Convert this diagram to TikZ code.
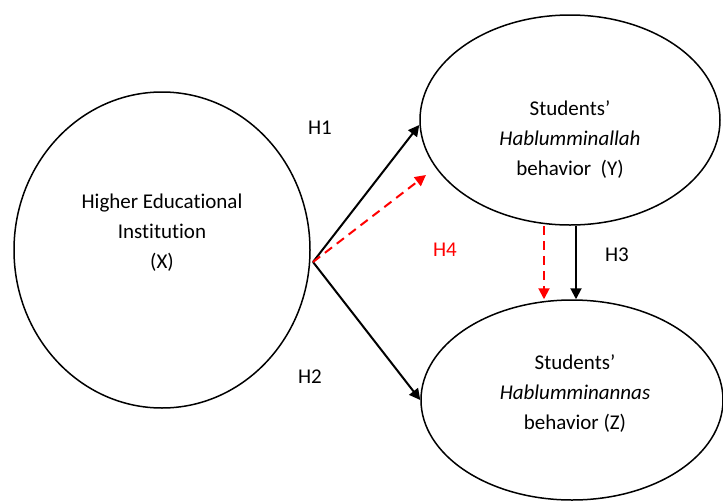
\documentclass[tikz,border=0pt]{standalone}
\usepackage{fontspec}
\setmainfont{Carlito}[Ligatures={TeX,NoCommon}]
\usetikzlibrary{arrows.meta,shapes.geometric}

\begin{document}
\begin{tikzpicture}[x=1pt,y=-1pt,>={Triangle[length=11pt,width=11pt]},line width=2pt]
    \tikzstyle{construct}=[ellipse,draw,line width=1.5pt,inner sep=0pt]
    \tikzstyle{annot}=[align=center,font=\fontsize{21}{30}\selectfont]
    \tikzstyle{hyp}=[font=\fontsize{21}{24}\selectfont]
    \tikzstyle{effect}=[->,draw=black]
    \tikzstyle{mediated}=[->,draw=red,dash pattern=on 9pt off 6pt]

    \useasboundingbox (0,0) rectangle (723,501);

    % Draw the three constructs
    \node[construct,minimum width=296pt,minimum height=316pt] (X) at (162,250) {};
    \node[construct,minimum width=300pt,minimum height=210pt] (Y) at (570,120) {};
    \node[construct,minimum width=302pt,minimum height=200pt] (Z) at (572,400) {};

    \node[annot] (X-text) at (162,233) {Higher Educational\\Institution\\(X)};
    \node[annot] (Y-text) at (570,140) {Students'\\\textit{Hablumminallah}\\behavior~~(Y)};
    \node[annot] (Z-text) at (575,394) {Students'\\\textit{Hablumminannas}\\behavior (Z)};

    % Direct and mediated paths
    \coordinate (fork) at (313,262);
    \coordinate (H4-tip) at (426,175);
    \draw[effect] (fork) -- ([yshift=-5pt]Y.west);
    \draw[effect] (fork) -- (Z.west);
    \draw[mediated] (fork) -- (H4-tip);
    \draw[effect] ([xshift=6pt]Y.south) -- ([xshift=6pt]Y.south |- Z.north);
    \draw[mediated] ([xshift=-26pt]Y.south) -- ([xshift=-26pt]Y.south |- Z.north);

    % Annotate the hypotheses
    \foreach \name/\x/\y in {H1/320/128,H2/310/377,H3/617/255}
        \node[hyp] (\name) at (\x,\y) {\name};
    \node[hyp,text=red] (H4) at (445,250) {H4};
\end{tikzpicture}
\end{document}
